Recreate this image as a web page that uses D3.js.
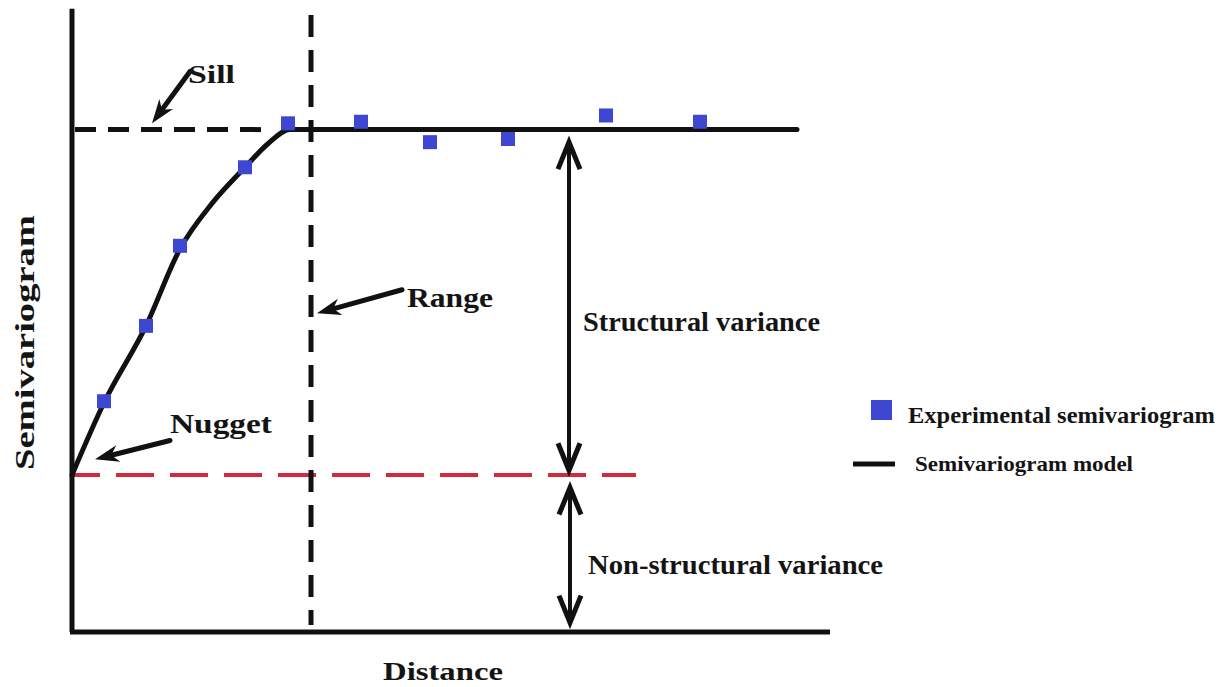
<!DOCTYPE html>
<html>
<head>
<meta charset="utf-8">
<script src="https://cdn.jsdelivr.net/npm/d3@7"></script>
<style>
  body { margin: 0; background: #fff; }
  text { font-family: "Liberation Serif", "Times New Roman", serif; font-weight: bold; fill: #141414; }
</style>
</head>
<body>
<script>
// experimental semivariogram points
var expDist  = [8, 18.5, 27, 43.25, 54, 72.25, 89.5, 109, 133.5, 157];
var expGamma = [1.47, 1.95, 2.46, 2.96, 3.24, 3.25, 3.12, 3.14, 3.29, 3.25];

// fitted model curve
var modelDist  = [0, 8, 18.5, 27, 35, 43.25, 49, 54.5, 181.25];
var modelGamma = [1.0, 1.46, 1.95, 2.44, 2.73, 2.96, 3.11, 3.2, 3.2];

// model parameters
var nugget = 1.0;
var sill = 3.2;
var range = 59.75;

var W = 1231, H = 687;

var svg = d3.select("body")
  .append("svg")
  .attr("width", W)
  .attr("height", H);

// scales
var x = d3.scaleLinear().domain([0, 190]).range([72, 832]);
var y = d3.scaleLinear().domain([0, 4]).range([632, 4]);

var blue = "#3e47d1";
var red = "#d2293b";

// sill dashed (left part)
svg.append("line")
  .attr("x1", x(0.75)).attr("x2", x(48))
  .attr("y1", y(sill)).attr("y2", y(sill))
  .attr("stroke", "#111").attr("stroke-width", 5)
  .attr("stroke-dasharray", "21,12");

// nugget red dashed line
svg.append("line")
  .attr("x1", x(0)).attr("x2", x(141))
  .attr("y1", y(nugget)).attr("y2", y(nugget))
  .attr("stroke", red).attr("stroke-width", 4)
  .attr("stroke-dasharray", "38,16")
  .attr("stroke-dashoffset", 10);

// range vertical dashed line
svg.append("line")
  .attr("x1", x(range)).attr("x2", x(range))
  .attr("y1", y(3.93)).attr("y2", y(0.045))
  .attr("stroke", "#111").attr("stroke-width", 5)
  .attr("stroke-dasharray", "22,13");

// model curve
var model = modelDist.map(function(d, i) { return [d, modelGamma[i]]; });
var line = d3.line()
  .x(function(d) { return x(d[0]); })
  .y(function(d) { return y(d[1]); })
  .curve(d3.curveMonotoneX);

svg.append("path")
  .datum(model)
  .attr("d", line)
  .attr("fill", "none")
  .attr("stroke", "#111")
  .attr("stroke-width", 5)
  .attr("stroke-linecap", "round");

// axes
svg.append("line")
  .attr("x1", x(0)).attr("x2", x(0))
  .attr("y1", y(3.97)).attr("y2", y(0))
  .attr("stroke", "#111").attr("stroke-width", 5);
svg.append("line")
  .attr("x1", x(0) - 2).attr("x2", x(190) - 2)
  .attr("y1", y(0)).attr("y2", y(0))
  .attr("stroke", "#111").attr("stroke-width", 5);

// experimental points
var sq = 14;
svg.selectAll(".pt")
  .data(expDist.map(function(d, i) { return [d, expGamma[i]]; }))
  .enter().append("rect")
  .attr("class", "pt")
  .attr("x", function(d) { return x(d[0]) - sq / 2; })
  .attr("y", function(d) { return y(d[1]) - sq / 2; })
  .attr("width", sq).attr("height", sq)
  .attr("fill", blue);

// arrow with a filled barbed head
function arrow(x1, y1, x2, y2) {
  var len = 24, wid = 17;
  var dx = x2 - x1, dy = y2 - y1, L = Math.hypot(dx, dy);
  var ux = dx / L, uy = dy / L;
  var bx = x2 - ux * len, by = y2 - uy * len;
  var nx = x2 - ux * len * 0.7, ny = y2 - uy * len * 0.7;
  svg.append("line")
    .attr("x1", x1).attr("y1", y1).attr("x2", nx).attr("y2", ny)
    .attr("stroke", "#111").attr("stroke-width", 5).attr("stroke-linecap", "round");
  svg.append("path")
    .attr("d", "M" + x2 + "," + y2 +
      "L" + (bx - uy * wid / 2) + "," + (by + ux * wid / 2) +
      "L" + nx + "," + ny +
      "L" + (bx + uy * wid / 2) + "," + (by - ux * wid / 2) + "Z")
    .attr("fill", "#111");
}

// double arrow with open chevron heads
function doubleArrow(xp, y1, y2) {
  svg.append("line")
    .attr("x1", xp).attr("x2", xp).attr("y1", y1 + 2).attr("y2", y2 - 2)
    .attr("stroke", "#111").attr("stroke-width", 4);
  [[y1, 1], [y2, -1]].forEach(function(e) {
    svg.append("path")
      .attr("d", "M" + (xp - 11) + "," + (e[0] + 27 * e[1]) +
        "L" + xp + "," + e[0] +
        "L" + (xp + 11) + "," + (e[0] + 27 * e[1]))
      .attr("fill", "none").attr("stroke", "#111")
      .attr("stroke-width", 5).attr("stroke-linejoin", "miter");
  });
}

arrow(x(29.5), y(3.57), x(20), y(3.24));     // sill
arrow(x(24.5), y(1.22), x(5.75), y(1.10));   // nugget
arrow(x(82.5), y(2.18), x(61.25), y(2.03));  // range
doubleArrow(x(124.25), y(3.12), y(1.03));
doubleArrow(x(124.5), y(0.92), y(0.06));

// labels
function label(t, x0, yb, size, len) {
  svg.append("text")
    .attr("x", x0).attr("y", yb)
    .attr("font-size", size)
    .attr("textLength", len)
    .attr("lengthAdjust", "spacingAndGlyphs")
    .text(t);
}
label("Sill", 188, 83, 26, 47);
label("Nugget", 170, 433, 27, 102);
label("Range", 407, 307, 27, 86);
label("Structural variance", 583, 331, 28, 237);
label("Non-structural variance", 588, 574, 28, 295);
label("Distance", 383, 680, 26, 120);

svg.append("text")
  .attr("transform", "translate(34,470) rotate(-90)")
  .attr("font-size", 28)
  .attr("textLength", 255)
  .attr("lengthAdjust", "spacingAndGlyphs")
  .text("Semivariogram");

// legend
svg.append("rect")
  .attr("x", 871).attr("y", 400).attr("width", 21).attr("height", 20)
  .attr("fill", blue);
label("Experimental semivariogram", 908, 423, 23, 307);
svg.append("line")
  .attr("x1", 853).attr("x2", 895).attr("y1", 464).attr("y2", 464)
  .attr("stroke", "#111").attr("stroke-width", 5);
label("Semivariogram model", 915, 471, 21, 218);
</script>
</body>
</html>
